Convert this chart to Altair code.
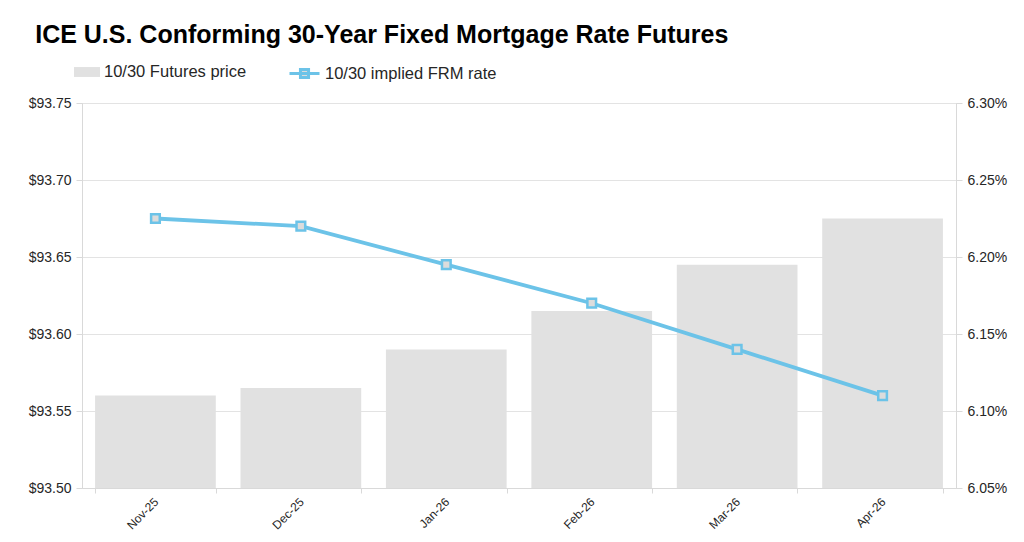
import altair as alt
import pandas as pd

months = ["Nov-25", "Dec-25", "Jan-26", "Feb-26", "Mar-26", "Apr-26"]
futures_price = [93.56, 93.565, 93.59, 93.615, 93.645, 93.675]
frm_rate = [6.225, 6.22, 6.195, 6.17, 6.14, 6.11]
left_ticks = [93.50, 93.55, 93.60, 93.65, 93.70, 93.75]
right_ticks = [6.05, 6.10, 6.15, 6.20, 6.25, 6.30]
price_floor = 93.50

df = pd.DataFrame({
    "month": months,
    "price": futures_price,
    "base": [price_floor] * len(months),
    "rate": frm_rate,
    "bar_series": ["10/30 Futures price"] * 6,
    "line_series": ["10/30 implied FRM rate"] * 6,
})

FONT = "Liberation Sans"
BAR = "#e1e1e1"
BLUE = "#6cc3e8"
TXT = "#262626"

x = alt.X("month:N", sort=months, title=None,
          scale=alt.Scale(paddingInner=0.17, paddingOuter=0.09),
          axis=alt.Axis(labelAngle=-45, labelAlign="right", labelBaseline="top",
                        labelPadding=3, labelOffset=-3, tickBand="extent", tickSize=5,
                        domainColor="#d9d9d9", tickColor="#d9d9d9",
                        labelFont=FONT, labelFontSize=12, labelColor=TXT))

bars = alt.Chart(df).mark_bar(color=BAR, clip=True).encode(
    x=x,
    y=alt.Y("price:Q", title=None,
            scale=alt.Scale(domain=[93.5, 93.75], zero=False, nice=False),
            axis=alt.Axis(values=left_ticks, format="$.2f", orient="left",
                          grid=True, gridColor="#e3e3e3", tickSize=6,
                          domainColor="#d9d9d9", tickColor="#d9d9d9",
                          labelPadding=5,
                          labelFont=FONT, labelFontSize=14, labelColor=TXT)),
    y2=alt.Y2("base:Q"),
    color=alt.Color("bar_series:N", scale=alt.Scale(range=[BAR]),
                    legend=alt.Legend(title=None, orient="none", legendX=-8, legendY=-44,
                                      symbolType="M-1,-0.38H1V0.38H-1Z", symbolSize=676,
                                      symbolStrokeWidth=0, labelOffset=4, padding=0,
                                      labelLimit=400,
                                      labelFont=FONT, labelFontSize=16.5, labelColor=TXT)),
)

line = alt.Chart(df).mark_line(
    strokeWidth=3.8,
    point=alt.OverlayMarkDef(shape="square", filled=True, size=75, fill="#dcdcdc",
                             stroke=BLUE, strokeWidth=2.5, opacity=1),
).encode(
    x=x,
    y=alt.Y("rate:Q", title=None,
            scale=alt.Scale(domain=[6.05, 6.30], zero=False, nice=False),
            axis=alt.Axis(values=right_ticks, orient="right", grid=False, tickSize=6,
                          labelExpr="format(datum.value, '.2f') + '%'",
                          domainColor="#d9d9d9", tickColor="#d9d9d9", labelPadding=5,
                          labelFont=FONT, labelFontSize=14, labelColor=TXT)),
    stroke=alt.Stroke("line_series:N", scale=alt.Scale(range=[BLUE]),
                      legend=alt.Legend(title=None, orient="none", legendX=206, legendY=-46,
                                        symbolType="M-1,0H1M-0.27,-0.27H0.27V0.27H-0.27Z",
                                        symbolSize=900, symbolFillColor="#dcdcdc",
                                        symbolStrokeColor=BLUE, symbolStrokeWidth=3,
                                        labelOffset=4, padding=0, labelLimit=400,
                                        labelFont=FONT, labelFontSize=16.5, labelColor=TXT)),
)

chart = alt.layer(bars, line).resolve_scale(y="independent").properties(
    width=874, height=385,
    autosize=alt.AutoSizeParams(type="none"),
    padding={"left": 74, "top": 95, "right": 60, "bottom": 46},
    title=alt.Title("ICE U.S. Conforming 30-Year Fixed Mortgage Rate Futures",
                    anchor="start", dx=7, offset=9, fontSize=25, font=FONT,
                    fontWeight="bold", color="#000000"),
).configure_view(stroke=None).configure(background="white")

chart.save("out.html", embed_options={"renderer": "svg", "actions": False})
